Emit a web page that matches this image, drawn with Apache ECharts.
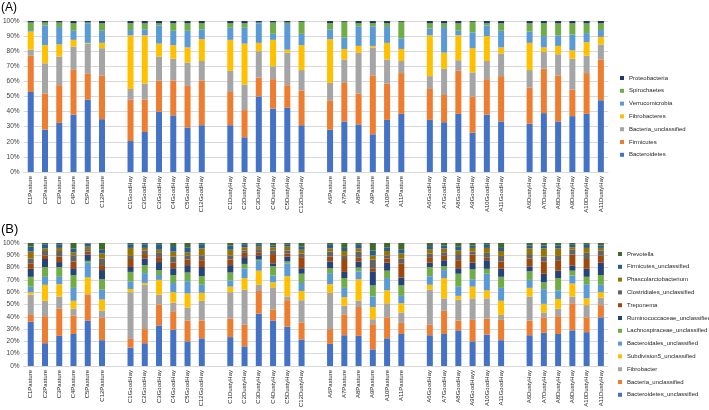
<!DOCTYPE html>
<html>
<head>
<meta charset="utf-8">
<script src="https://cdn.jsdelivr.net/npm/echarts@6/dist/echarts.min.js"></script>
<style>html,body{margin:0;padding:0;background:#fff}#c{width:709px;height:410px}</style>
</head>
<body>
<div id="c"></div>
<script>
// ---- categories (groups separated by a blank slot) ----
const groupsA = [
  ['C1Pasture','C2Pasture','C3Pasture','C4Pasture','C5Pasture','C12Pasture'],
  ['C1GoodHay','C2GoodHay','C3GoodHay','C4GoodHay','C5GoodHay','C12GoodHay'],
  ['C1DustyHay','C2DustyHay','C3DustyHay','C4DustyHay','C5DustyHay','C12DustyHay'],
  ['A6Pasture','A7Pasture','A8Pasture','A9Pasture','A10Pasture','A11Pasture'],
  ['A6GoodHay','A7GoodHay','A8GoodHay','A9GoodHay','A10GoodHay','A11GoodHay'],
  ['A6DustyHay','A7DustyHay','A8DustyHay','A9DustyHay','A10DustyHay','A11DustyHay']
];
const groupsB = [
  ['C1Pasture','C2Pasture','C3Pasture','C4Pasture','C5Pasture','C12Pasture'],
  ['C1GoodHay','C2GoodHay','C3GoodHay','C4GoodHay','C5GoodHay','C12GoodHay'],
  ['C1DustyHay','C2DustyHay','C3DustyHay','C4DustyHay','C5DustyHay','C12DustyHay'],
  ['A6Pasture','A7Pasture','A8Pasture','A9Pasture','A10Pasture','A11Pasture'],
  ['A6GoodHay','A7GoodHay','A8GoodHay','A9GoodHayy','A10GoodHay','A11GoodHay'],
  ['A6DustyHay','A7DustyHay','A8DustyHay','A9DustyHay','A10DustyHay','A11DustyHay']
];
const yTicks = [0,10,20,30,40,50,60,70,80,90,100];

// ---- Panel A: phyla (%) ----
const namesA = ['Bacteroidetes','Firmicutes','Bacteria_unclassified','Fibrobacteres','Verrucomicrobia','Spirochaetes','Proteobacteria'];
const colorsA = ['#4472C4','#ED7D31','#A5A5A5','#FFC000','#5B9BD5','#70AD47','#203864'];
const bacteroidetes = [53,28,32.5,38,48,35, 20.5,26.5,40,37.5,29.5,31, 31,23,50,42,42.5,31, 28,33.5,31.5,25,34.5,38.5, 34.5,33,38.5,26,38,33.5, 32,39,33.5,37,38.5,47.5];
const firmicutes = [24,24,25,30,17,29, 27.5,21.5,20.5,23,27.5,29.5, 22,18,12.5,19.5,15,23, 19.5,25.5,20.5,39,24,27, 20.5,18,28.5,24,23.5,30, 24,29.5,30.5,17.5,27,27];
const bacteriaUncA = [4,20,19,15,20,18, 7,10.5,16,14.5,15.5,13, 14,17,17.5,8.5,21.5,13.5, 11.5,15.5,27,18.5,16,8, 8.5,17.5,7,16,12,15, 11.5,11,14,20.5,11.5,10];
const fibrobacteres = [12,12,8,4.5,0.5,3.5, 35.5,32,8.5,9,10,14.5, 20.5,27,5.5,17.5,2,16.5, 29,7,4.5,1,11,8, 27,10.5,16.5,16,16.5,4, 18,3,5.5,5.5,9,5];
const verrucomicrobia = [1,13,11.5,6,13,8, 3.5,4,12,9.5,11,6.5, 8,10.5,13,4,17,7.5, 6.5,7.5,13,13,10.5,7, 4.5,17,3,10.5,7,11, 7.5,7.5,7,10.5,6,4.5];
const spirochaetes = [5,2,3,5,0.5,5, 4.5,4,1.5,5,5,4, 3,3,0.5,7.5,1,8, 4,10.5,2,2,2.5,11, 3.5,2.5,5,7,1.5,5, 5.5,8.5,8,7.5,6.5,4.5];
const proteobacteria = [1,1,1,1.5,1,1.5, 1.5,1.5,1.5,1.5,1.5,1.5, 1.5,1.5,1,1,1,0.5, 1.5,0.5,1.5,1.5,1.5,0.5, 1.5,1.5,1.5,0.5,1.5,1.5, 1.5,1.5,1.5,1.5,1.5,1.5];
const valuesA = [bacteroidetes, firmicutes, bacteriaUncA, fibrobacteres, verrucomicrobia, spirochaetes, proteobacteria];

// ---- Panel B: genera (%) ----
const namesB = ['Bacteroidetes_unclassified','Bacteria_unclassified','Fibrobacter','Subdivision5_unclassified','Bacteroidales_unclassified','Lachnospiraceae_unclassified','Ruminococcaceae_unclassified','Treponema','Clostridiales_unclassified','Phascolarctobacterium','Firmicutes_unclassified','Prevotella'];
const colorsB = ['#4472C4','#ED7D31','#A5A5A5','#FFC000','#5B9BD5','#70AD47','#264478','#9E480E','#636363','#997300','#255E91','#43682B'];
const bacteroidetesUnc = [36,18.5,24.5,26,37,21, 15,18.5,33,29.5,20,22.5, 23.5,16,42.5,37,32,21.5, 18,25,24.5,13.5,22.5,26, 25,26,29,20,25.5,21, 25,27,26,29,27.5,39.5];
const bacteriaUncB = [5.5,22,22,15,21,18.5, 7,11.5,17,15,17,14.5, 15,17.5,18.5,9,21.5,14, 12,17,23.5,20.5,17,9, 8.5,19,8,17.5,13,16.5, 12,12.5,14.5,22,12,10];
const fibrobacter = [16.5,12.5,10,5.5,0.5,5.5, 38,36,8,7,10.5,16, 21.5,28.5,5,18,3,18, 29.5,7,5,4,11.5,8.5, 28.5,10,17,17.5,16.5,4, 19.5,4,6,5.5,10,6];
const subdivision5 = [2,13,10,6.5,13.5,9, 2.5,1.5,12,8.5,11.5,6.5, 4.5,9.5,11.5,4,16.5,7.5, 7,7,17.5,10,10.5,7.5, 4,16.5,3,9.5,6.5,11.5, 7,7,8,10.5,5.5,4.5];
const bacteroidales = [4.5,6.5,6,10.5,12,8, 6,8,4,7.5,10,6.5, 5,8,8,5.5,10.5,6.5, 9,7.5,6.5,8.5,10,6, 7,6.5,7.5,6,13.5,10.5, 6.5,12,7,6.5,11.5,6];
const lachnospiraceae = [8,8,8,10.5,1.5,8.5, 8,6.5,4,6.5,7,7, 6.5,3.5,1,7.5,1.5,7.5, 4,8,3,9,6,8.5, 7.5,3,10.5,8,4,9, 7,5.5,10,4,6,8];
const ruminococcaceae = [6.5,6.5,4,5.5,5,7.5, 4,5.5,6.5,5.5,6,7.5, 6,5.5,3.5,2.5,4,4.5, 5.5,5,5,11.5,6.5,6.5, 3.5,5,4.5,5.5,7,6.5, 4,7,6,4,6.5,10];
const treponema = [4.5,3,4.5,5.5,2.5,4, 6.5,3.5,4,4.5,4.5,5.5, 4.5,3.5,2.5,7.5,2.5,9, 4,10.5,3,2.5,3.5,11.5, 4.5,4,6.5,6.5,2,6, 6.5,10,8,9,8,6];
const clostridiales = [4,3.5,4.5,5,2,5.5, 2.5,3,4,5,3.5,4, 3.5,2,2.5,3,2.5,3, 4,2.5,5,7,2.5,4, 3,2.5,5,2.5,4,4.5, 3.5,4,4,4,5,4];
const phascolarcto = [5.5,2,2.5,2.5,2,4, 6.5,2,2,4,2.5,5.5, 4.5,2.5,2,2.5,3,3, 2.5,4,2.5,3.5,3.5,4, 3.5,3,3,3,4,4, 4.5,6.5,6,2,4,2];
const firmicutesUnc = [4,3.5,3,3,2.5,3, 3,3,4.5,4.5,4,3.5, 3.5,2.5,2,1.5,2,2.5, 3,2.5,3,4,3,3, 2.5,2.5,3,2,2.5,2.5, 2.5,2.5,2.5,2,2.5,2];
const prevotella = [3,1,1,4.5,0.5,5.5, 1,1,1,2.5,3.5,1, 2,1,1,2,1,3, 1.5,4,1.5,6,3.5,5.5, 2.5,2,3,2,1.5,4, 2,2,2,1.5,1.5,2];
const valuesB = [bacteroidetesUnc, bacteriaUncB, fibrobacter, subdivision5, bacteroidales, lachnospiraceae, ruminococcaceae, treponema, clostridiales, phascolarcto, firmicutesUnc, prevotella];

// ---- build padded categories / data with blank slots between groups ----
function padCats(groups){
  const out = [];
  groups.forEach((g,i)=>{ if(i>0) out.push(''); g.forEach(c=>out.push(c)); });
  return out;
}
function padData(arr, groups){
  const out = []; let k = 0;
  groups.forEach((g,i)=>{ if(i>0) out.push(null); g.forEach(()=>{ out.push(arr[k++]); }); });
  return out;
}
const catsA = padCats(groupsA);
const catsB = padCats(groupsB);

const FONT = 'Liberation Sans, Arial, sans-serif';
const txt = '#262626';

function xAxis(idx, cats){
  return {
    type:'category', gridIndex:idx, data:cats,
    axisTick:{show:false},
    axisLine:{lineStyle:{color:'#d9d9d9'}},
    axisLabel:{interval:0, rotate:90, fontSize:6, color:txt, fontFamily:FONT, margin:4}
  };
}
function yAxis(idx){
  return {
    type:'value', gridIndex:idx, min:yTicks[0], max:yTicks[yTicks.length-1], interval:10,
    axisLabel:{formatter:'{value}%', fontSize:6.5, color:'#404040', fontFamily:FONT, margin:4},
    splitLine:{lineStyle:{color:'#d9d9d9', width:1}},
    axisLine:{show:false}, axisTick:{show:false}
  };
}

const series = [];
namesA.forEach((n,i)=>{
  series.push({name:n, type:'bar', stack:'A', xAxisIndex:0, yAxisIndex:0, barWidth:6,
    itemStyle:{color:colorsA[i]}, data:padData(valuesA[i], groupsA), emphasis:{disabled:true}});
});
namesB.forEach((n,i)=>{
  series.push({name:n, type:'bar', stack:'B', xAxisIndex:1, yAxisIndex:1, barWidth:6,
    itemStyle:{color:colorsB[i]}, data:padData(valuesB[i], groupsB), emphasis:{disabled:true}});
});

const legendText = {fontSize:6, color:txt, fontFamily:FONT, lineHeight:8};
const option = {
  animation:false,
  textStyle:{fontFamily:FONT},
  grid:[
    {left:19, right:101, top:21, height:151, containLabel:false},
    {left:19, right:101, top:243, height:125, containLabel:false}
  ],
  xAxis:[xAxis(0, catsA), xAxis(1, catsB)],
  yAxis:[yAxis(0), yAxis(1)],
  legend:[
    {orient:'vertical', left:615, top:69, itemWidth:4, itemHeight:4, itemGap:4.8, icon:'rect',
     selectedMode:false, textStyle:legendText,
     data:namesA.slice().reverse().map((n)=>({name:n, itemStyle:{color:colorsA[namesA.indexOf(n)]}}))},
    {orient:'vertical', left:613, top:245, itemWidth:4, itemHeight:4, itemGap:4.8, icon:'rect',
     selectedMode:false, textStyle:legendText,
     data:namesB.slice().reverse().map((n)=>({name:n, itemStyle:{color:colorsB[namesB.indexOf(n)]}}))}
  ],
  graphic:[
    {type:'text', left:1, top:2, style:{text:'(A)', fontSize:12, fill:'#000', fontFamily:FONT}},
    {type:'text', left:1, top:223, style:{text:'(B)', fontSize:13, fill:'#000', fontFamily:FONT}}
  ],
  series:series
};
const chart = echarts.init(document.getElementById('c'), null, {renderer:'canvas'});
chart.setOption(option);
</script>
</body>
</html>
